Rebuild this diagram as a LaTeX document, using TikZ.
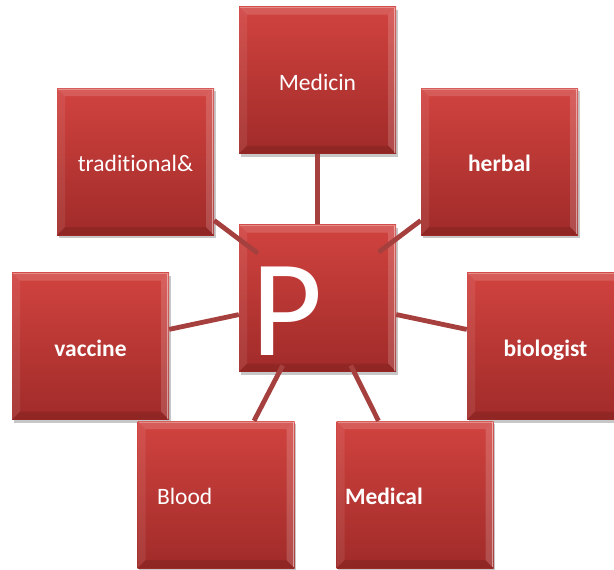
\documentclass[tikz,border=0pt]{standalone}
\usepackage{fontspec}
\setmainfont{Carlito}[Ligatures={NoCommon}]
\usetikzlibrary{shadows}
\definecolor{boxtop}{HTML}{D1433F}
\definecolor{boxbot}{HTML}{A02B29}
\definecolor{linkcol}{HTML}{A6403E}
\begin{document}
\begin{tikzpicture}[x=1pt,y=-1pt,
  box/.style={minimum width=157pt, minimum height=147pt, inner sep=0pt,
    top color=boxtop, bottom color=boxbot, text=white,
    text height=20pt, text depth=0pt,
    font=\fontsize{23.5}{28}\selectfont,
    drop shadow={shadow xshift=1.5pt, shadow yshift=-3pt, opacity=0.22, fill=black},
    path picture={
      \fill[white,opacity=0.14] (path picture bounding box.north west) -- (path picture bounding box.north east)
        -- ([shift={(-8pt,-8pt)}]path picture bounding box.north east) -- ([shift={(8pt,-8pt)}]path picture bounding box.north west) -- cycle;
      \fill[white,opacity=0.08] (path picture bounding box.north west) -- (path picture bounding box.south west)
        -- ([shift={(8pt,8pt)}]path picture bounding box.south west) -- ([shift={(8pt,-8pt)}]path picture bounding box.north west) -- cycle;
      \fill[white,opacity=0.16] (path picture bounding box.north east) -- (path picture bounding box.south east)
        -- ([shift={(-8pt,8pt)}]path picture bounding box.south east) -- ([shift={(-8pt,-8pt)}]path picture bounding box.north east) -- cycle;
      \fill[black,opacity=0.10] (path picture bounding box.south west) -- (path picture bounding box.south east)
        -- ([shift={(-8pt,8pt)}]path picture bounding box.south east) -- ([shift={(8pt,8pt)}]path picture bounding box.south west) -- cycle;
      \draw[white,opacity=0.45,line width=1pt] ([shift={(-1.5pt,-1pt)}]path picture bounding box.north east) -- ([shift={(-1.5pt,1pt)}]path picture bounding box.south east);
      \draw[white,opacity=0.30,line width=0.8pt] ([shift={(1pt,-1pt)}]path picture bounding box.north west) -- ([shift={(-1pt,-1pt)}]path picture bounding box.north east);
    }},
  bf/.style={font=\fontsize{23.5}{28}\selectfont\bfseries},
  link/.style={draw=linkcol, line width=4.8pt}]
\useasboundingbox (0,0) rectangle (614,570);

\node[box] (med) at (317.5,80) {Medicin};
\node[box] (trad) at (135.5,161.5) {traditional\&};
\node[box,bf] (herb) at (499.5,161.5) {herbal};
\node[box,bf] (vac) at (90.5,346) {vaccine};
\node[box,bf] (bio) at (545.5,346) {biologist};
\node[box,align=left,text width=118pt] (blood) at (216,494.5) {Blood};
\node[box,bf,align=left,text width=140pt] (medical) at (415,494.5) {Medical};
\node[box,align=left,text width=133pt,text height=115pt,text depth=0pt,
      font=\fontsize{138}{140}\selectfont] (P) at (317.5,298) {P};

\draw[link] (med) -- (P);
\draw[link, shorten >=-24pt] (trad) -- (P);
\draw[link, shorten >=-22pt] (herb) -- (P);
\draw[link] (vac) -- (P);
\draw[link] (bio) -- (P);
\draw[link, shorten >=-7pt] (blood) -- (P);
\draw[link, shorten >=-7pt] (medical) -- (P);
\end{tikzpicture}
\end{document}
